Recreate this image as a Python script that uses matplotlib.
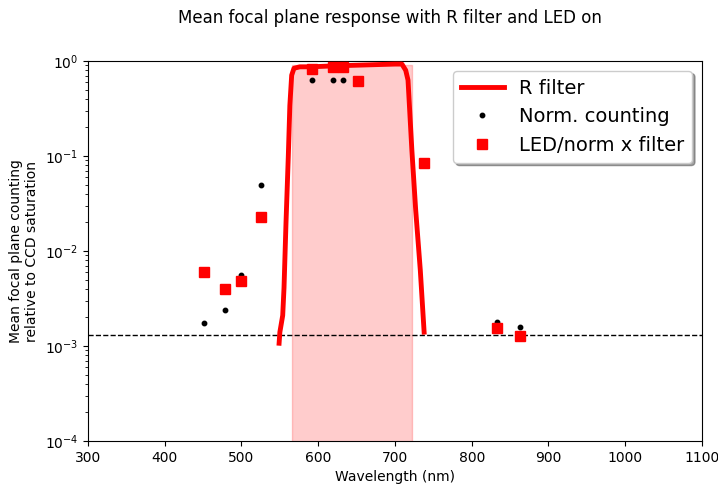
import matplotlib
matplotlib.use("Agg")
import matplotlib.pyplot as plt
from matplotlib.ticker import LogLocator, NullFormatter
import numpy as np

# R filter transmission curve
filter_wl = [549, 550, 553.7, 555.4, 558, 561, 563, 565.4, 568.4, 576, 590, 605, 620, 640,
             660, 680, 700, 709, 714, 717, 722, 727, 733, 738]
filter_val = [0.00107, 0.0014, 0.0021, 0.0041, 0.020, 0.10, 0.34, 0.71, 0.84, 0.87, 0.87,
              0.88, 0.89, 0.90, 0.91, 0.92, 0.93, 0.93, 0.80, 0.63, 0.116, 0.027, 0.0063, 0.0014]

# Normalised counting (black dots)
norm_wl = [451, 479, 499, 525, 592, 619, 632, 738, 833, 863]
norm_val = [0.00175, 0.0024, 0.0056, 0.0495, 0.63, 0.63, 0.63, 0.08, 0.0018, 0.0016]

# LED/norm x filter (red squares)
led_wl = [451, 479, 499, 525, 592, 619, 632, 652, 738, 833, 863]
led_val = [0.00605, 0.0040, 0.00483, 0.0226, 0.82, 0.87, 0.87, 0.62, 0.085, 0.00155, 0.00128]

band_lo, band_hi, band_top = 566, 722, 0.9
threshold = 0.0013

fig = plt.figure(figsize=(7.18, 4.84), dpi=100)
ax = fig.add_axes([0.1226, 0.0888, 0.855, 0.785])

ax.fill_between([band_lo, band_hi], [1e-5, 1e-5], [band_top, band_top],
                facecolor='red', alpha=0.2, edgecolor='red', linewidth=1, zorder=1)
ax.axhline(threshold, color='black', linestyle='--', linewidth=1, zorder=2)
ax.plot(filter_wl, filter_val, color='red', linewidth=3.5, label='R filter', zorder=3)
ax.plot(norm_wl, norm_val, 'o', color='black', markersize=3.2, linestyle='none',
        label='Norm. counting', zorder=4)
ax.plot(led_wl, led_val, 's', color='red', markersize=7, linestyle='none',
        label='LED/norm x filter', zorder=5)

ax.set_yscale('log')
ax.set_xlim(300, 1100)
ax.set_ylim(1e-4, 1)
ax.set_xticks(np.arange(300, 1101, 100))
ax.yaxis.set_minor_locator(LogLocator(base=10, subs=np.arange(2, 10), numticks=20))
ax.yaxis.set_minor_formatter(NullFormatter())
ax.tick_params(labelsize=10)
ax.set_xlabel('Wavelength (nm)', fontsize=10)
ax.set_ylabel('Mean focal plane counting\nrelative to CCD saturation', fontsize=10)

leg = ax.legend(loc='upper right', fontsize=14, shadow=True, fancybox=True,
                handlelength=2.2)

fig.text(390 / 718, 1 - 18 / 484, 'Mean focal plane response with R filter and LED on',
         ha='center', va='center', fontsize=12)

fig.savefig('out.png', dpi=100)
